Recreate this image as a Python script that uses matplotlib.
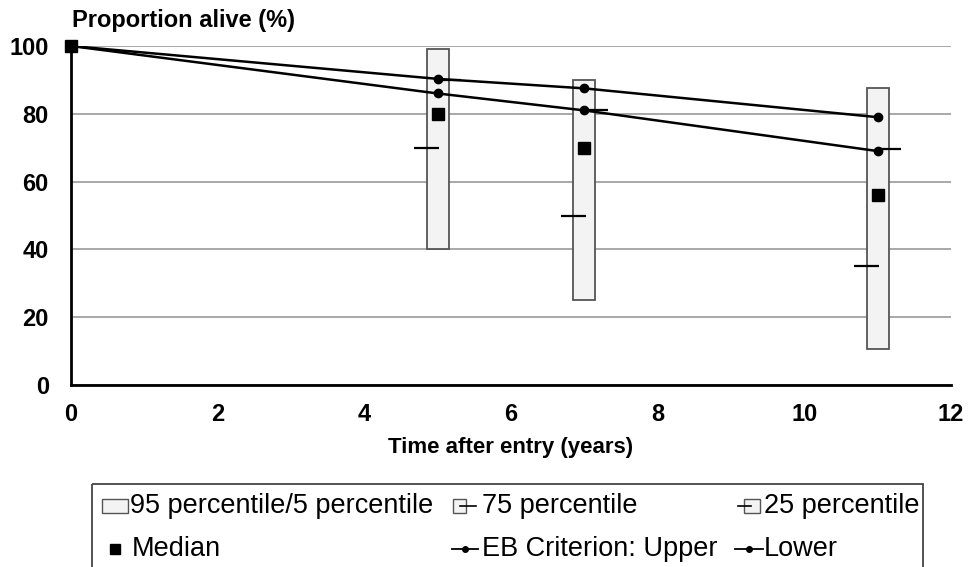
import matplotlib
matplotlib.use("Agg")
import matplotlib.pyplot as plt
from matplotlib.patches import Rectangle
from matplotlib.lines import Line2D

plt.rcParams['font.family'] = ['Liberation Sans', 'DejaVu Sans']

# data
years = [5, 7, 11]
p95 = [99, 90, 87.5]
p5 = [40, 25, 10.5]
p75 = [90.1, 81, 69.5]
p25 = [70, 50, 35]
median_x = [0, 5, 7, 11]
median = [100, 80, 70, 56]
eb_x = [0, 5, 7, 11]
eb_upper = [100, 90.3, 87.5, 79]
eb_lower = [100, 86, 81, 69]

fig = plt.figure(figsize=(9.7, 5.67), dpi=100)
ax = fig.add_axes([71 / 970, 1 - 385 / 567, 880 / 970, 339 / 567])

box_w = 0.3
ax.bar(years, [t - b for t, b in zip(p95, p5)], bottom=p5, width=box_w,
       color='#f3f3f3', edgecolor='#555555', linewidth=1.3, zorder=3)

ax.plot(eb_x, eb_upper, color='black', lw=1.8, marker='o', ms=6, zorder=5)
ax.plot(eb_x, eb_lower, color='black', lw=1.8, marker='o', ms=6, zorder=5)

ax.hlines(p25, [x - 0.32 for x in years], [x + 0.02 for x in years], color='black', lw=1.6, zorder=6)
ax.hlines(p75, [x - 0.02 for x in years], [x + 0.32 for x in years], color='black', lw=1.6, zorder=6)

ax.plot(median_x, median, ls='none', marker='s', ms=8, color='black', zorder=7, clip_on=False)

ax.set_xlim(0, 12)
ax.set_ylim(0, 100)
ax.set_xticks(range(0, 13, 2))
ax.set_yticks(range(0, 101, 20))
ax.yaxis.grid(True, color='#9a9a9a', lw=1.2)
ax.set_axisbelow(True)
ax.tick_params(length=0, labelsize=17)
ax.tick_params(axis='y', pad=16)
ax.tick_params(axis='x', pad=13)
for lab in ax.get_xticklabels() + ax.get_yticklabels():
    lab.set_fontweight('bold')
for s in ['top', 'right']:
    ax.spines[s].set_visible(False)
for s in ['left', 'bottom']:
    ax.spines[s].set_linewidth(2)

fig.text(72 / 970, 1 - 20 / 567, 'Proportion alive (%)', fontsize=17, fontweight='bold', va='center')
fig.text(0.5 * (71 + 951) / 970, 1 - 447 / 567, 'Time after entry (years)', fontsize=16,
         fontweight='bold', ha='center', va='center')

# legend drawn in pixel units
lg = fig.add_axes([0, 0, 1, 1], zorder=10)
lg.set_xlim(0, 970)
lg.set_ylim(567, 0)
lg.axis('off')
lg.add_patch(Rectangle((92, 484), 831, 100, fill=False, ec='#444444', lw=1.3))
fs = 19.5
r1, r2 = 506, 549
lg.add_patch(Rectangle((102, r1 - 7), 26, 14, fc='#f3f3f3', ec='#555555', lw=1))
lg.text(130, r1, '95 percentile/5 percentile', fontsize=fs, va='center')
lg.add_patch(Rectangle((453, r1 - 7), 13, 14, fc='#f3f3f3', ec='#555555', lw=1))
lg.add_line(Line2D([460, 476], [r1, r1], color='black', lw=1.2))
lg.text(482, r1, '75 percentile', fontsize=fs, va='center')
lg.add_patch(Rectangle((744, r1 - 7), 16, 14, fc='#f3f3f3', ec='#555555', lw=1))
lg.add_line(Line2D([738, 751], [r1, r1], color='black', lw=1.2))
lg.text(764, r1, '25 percentile', fontsize=fs, va='center')
lg.add_line(Line2D([115], [r2], marker='s', ms=7, color='black'))
lg.text(132, r2, 'Median', fontsize=fs, va='center')
lg.add_line(Line2D([452, 478], [r2, r2], color='black', lw=1.3))
lg.add_line(Line2D([465], [r2], color='black', marker='o', ms=4))
lg.text(482, r2, 'EB Criterion: Upper', fontsize=fs, va='center')
lg.add_line(Line2D([735, 763], [r2, r2], color='black', lw=1.3))
lg.add_line(Line2D([749], [r2], color='black', marker='o', ms=4))
lg.text(764, r2, 'Lower', fontsize=fs, va='center')

fig.savefig('out.png', dpi=100)
